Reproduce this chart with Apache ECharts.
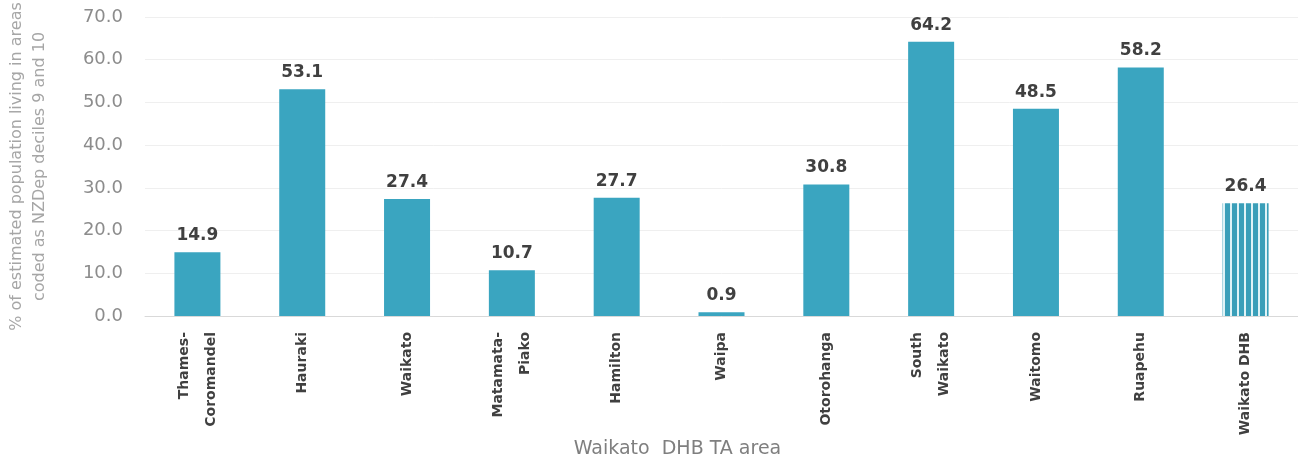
<!DOCTYPE html>
<html>
<head>
<meta charset="utf-8">
<script src="https://cdn.jsdelivr.net/npm/echarts@6/dist/echarts.min.js"></script>
<style>
  html, body { margin: 0; padding: 0; background: #ffffff; }
  #chart { width: 1298px; height: 457px; }
</style>
</head>
<body>
<div id="chart"></div>
<script>
// Territorial authority areas within the Waikato DHB
const categories = [
  'Thames-\nCoromandel', 'Hauraki', 'Waikato', 'Matamata-\nPiako', 'Hamilton',
  'Waipa', 'Otorohanga', 'South\nWaikato', 'Waitomo', 'Ruapehu', 'Waikato DHB'
];
// % of population living in NZDep deciles 9 and 10
const values = [14.9, 53.1, 27.4, 10.7, 27.7, 0.9, 30.8, 64.2, 48.5, 58.2, 26.4];
const yTicks = { min: 0, max: 70, interval: 10 };

const barColor = '#3aa5c0';

// Vertical stripe pattern for the DHB total bar
function stripePattern() {
  const c = document.createElement('canvas');
  c.width = 7; c.height = 10;
  const ctx = c.getContext('2d');
  ctx.fillStyle = '#dff3f7';
  ctx.fillRect(0, 0, 7, 10);
  ctx.fillStyle = '#3a9fb9';
  ctx.fillRect(0, 0, 5, 10);
  return { image: c, repeat: 'repeat' };
}

const seriesData = values.map((v, i) => {
  if (i === values.length - 1) {
    return { value: v, itemStyle: { color: stripePattern() } };
  }
  return v;
});

const chart = echarts.init(document.getElementById('chart'), null, { renderer: 'canvas' });
chart.setOption({
  animation: false,
  backgroundColor: '#ffffff',
  grid: { left: 145, right: 0, top: 17, bottom: 141, outerBoundsMode: 'none', containLabel: false },
  xAxis: {
    type: 'category',
    data: categories,
    name: 'Waikato  DHB TA area',
    nameLocation: 'middle',
    nameGap: 124,
    nameMoveOverlap: false,
    nameTextStyle: {
      color: '#7f7f7f', fontSize: 19, fontFamily: 'DejaVu Sans',
      padding: [0, 88, 0, 0]
    },
    axisLine: { lineStyle: { color: '#d9d9d9', width: 1 } },
    axisTick: { show: false },
    axisLabel: {
      rotate: 90,
      interval: 0,
      margin: 16,
      color: '#404040',
      fontSize: 14,
      fontWeight: 'bold',
      fontFamily: 'DejaVu Sans',
      lineHeight: 27
    }
  },
  yAxis: {
    type: 'value',
    min: yTicks.min,
    max: yTicks.max,
    interval: yTicks.interval,
    name: '% of estimated population living in areas\ncoded as NZDep deciles 9 and 10',
    nameLocation: 'middle',
    nameGap: 94,
    nameRotate: 90,
    nameMoveOverlap: false,
    nameTextStyle: {
      color: '#a6a6a6', fontSize: 16, fontFamily: 'DejaVu Sans', lineHeight: 23
    },
    axisLine: { show: false },
    axisTick: { show: false },
    axisLabel: {
      color: '#8c8c8c',
      fontSize: 18,
      fontFamily: 'DejaVu Sans',
      margin: 22,
      formatter: v => v.toFixed(1)
    },
    splitLine: { lineStyle: { color: '#efefef', width: 1 } }
  },
  series: [{
    type: 'bar',
    data: seriesData,
    barWidth: 46,
    itemStyle: { color: barColor },
    label: {
      show: true,
      position: 'top',
      distance: 8,
      color: '#404040',
      fontSize: 17,
      fontWeight: 'bold',
      fontFamily: 'DejaVu Sans',
      formatter: p => p.value.toFixed(1)
    }
  }]
});
</script>
</body>
</html>
